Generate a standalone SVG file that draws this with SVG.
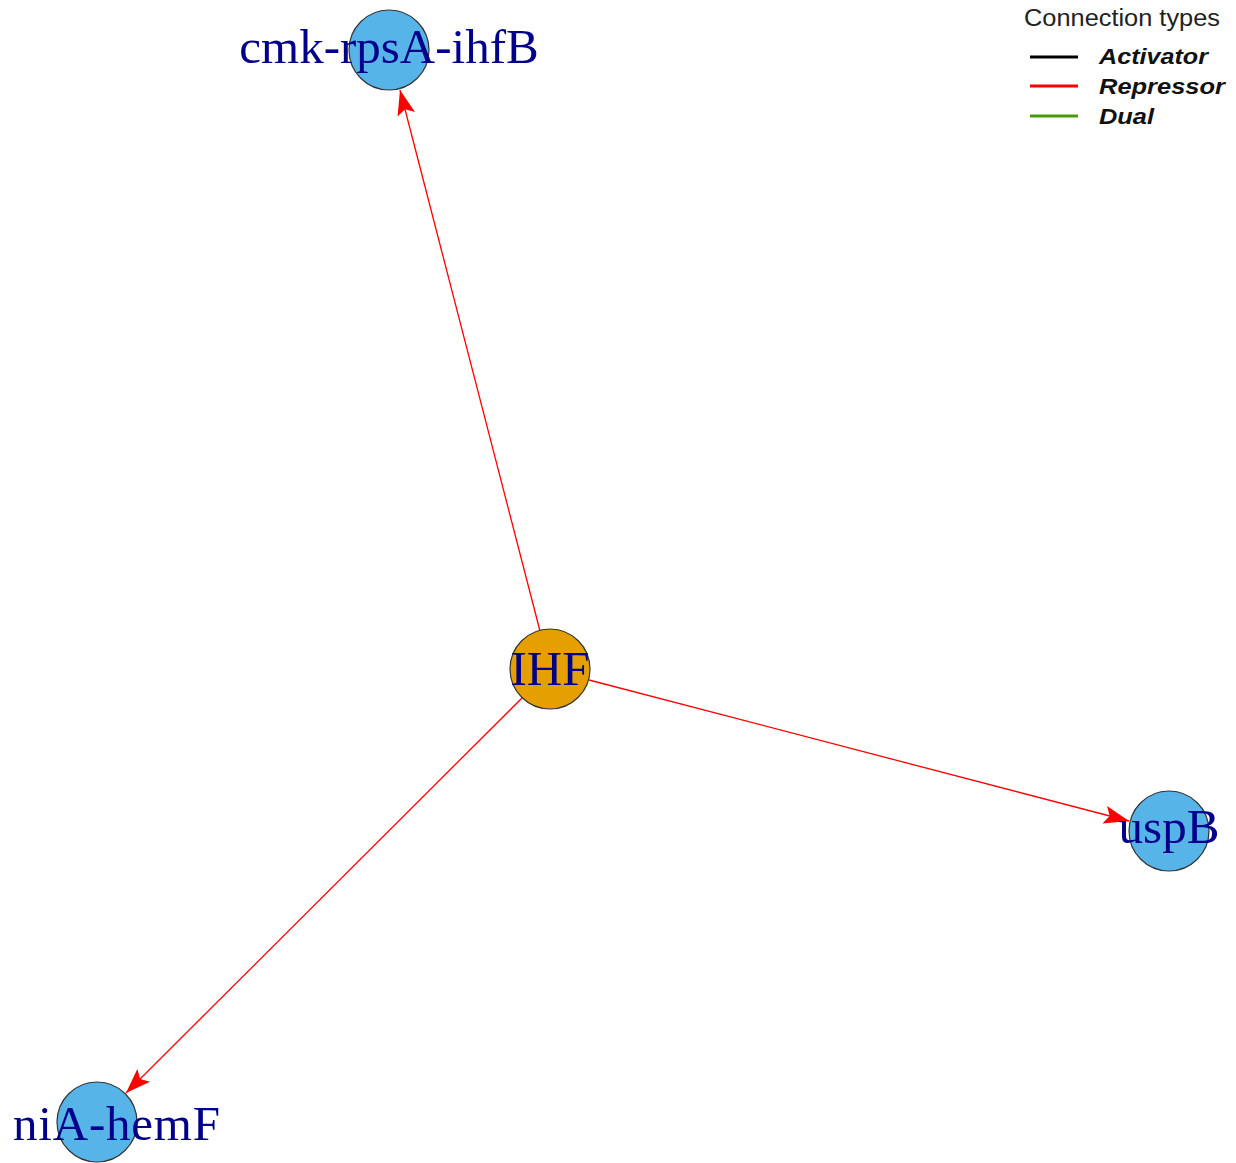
<svg xmlns="http://www.w3.org/2000/svg" width="1236" height="1163" viewBox="0 0 1236 1163">
<style>
.edge{stroke:#ff0000;stroke-width:1.3;fill:none}
.node{stroke:#333333;stroke-width:1.2}
.gene{fill:#56B4E9}
.tf{fill:#E69F00}
.lbl{font-family:"Liberation Serif",serif;font-size:49px;fill:#00008B}
.ttl{font-family:"Liberation Sans",Arial,sans-serif;font-size:23px;fill:#222}
.leg{font-family:"Liberation Sans",Arial,sans-serif;font-size:22px;font-weight:bold;font-style:italic;fill:#111}
</style>
<defs>
<marker id="arr" markerUnits="userSpaceOnUse" markerWidth="28" markerHeight="24" viewBox="-26 -12 28 24" refX="0" refY="0" orient="auto">
<path d="M0,0 L-25,-9 L-20,0 L-25,9 Z" fill="#ff0000"/>
</marker>
</defs>
<rect width="1236" height="1163" fill="#ffffff"/>
<g id="connectors">
<line class="edge" x1="540" y1="631" x2="400" y2="90" marker-end="url(#arr)"/>
<line class="edge" x1="589" y1="680" x2="1129" y2="821" marker-end="url(#arr)"/>
<line class="edge" x1="522" y1="698" x2="126" y2="1093" marker-end="url(#arr)"/>
</g>
<g id="node-cmk">
<circle class="node gene" cx="389" cy="50" r="40"/>
<text class="lbl" x="389" y="63" text-anchor="middle">cmk-rpsA-ihfB</text>
</g>
<g id="node-IHF">
<circle class="node tf" cx="550" cy="669" r="40"/>
<text class="lbl" x="550" y="685" text-anchor="middle">IHF</text>
</g>
<g id="node-uspB">
<circle class="node gene" cx="1169" cy="831" r="40"/>
<text class="lbl" x="1169" y="843" text-anchor="middle">uspB</text>
</g>
<g id="node-hemF">
<circle class="node gene" cx="97" cy="1122" r="40"/>
<text class="lbl" x="13" y="1140" textLength="207" lengthAdjust="spacing">niA-hemF</text>
</g>
<g id="legend">
<text class="ttl" x="1024" y="26" textLength="196" lengthAdjust="spacingAndGlyphs">Connection types</text>
<line x1="1030" y1="57" x2="1078" y2="57" stroke="#000000" stroke-width="3"/>
<line x1="1030" y1="86" x2="1078" y2="86" stroke="#ff0000" stroke-width="3"/>
<line x1="1030" y1="116" x2="1078" y2="116" stroke="#4a9a0e" stroke-width="3"/>
<text class="leg" x="1099" y="64" textLength="109" lengthAdjust="spacingAndGlyphs">Activator</text>
<text class="leg" x="1099" y="94" textLength="126" lengthAdjust="spacingAndGlyphs">Repressor</text>
<text class="leg" x="1099" y="124" textLength="55" lengthAdjust="spacingAndGlyphs">Dual</text>
</g>
</svg>
